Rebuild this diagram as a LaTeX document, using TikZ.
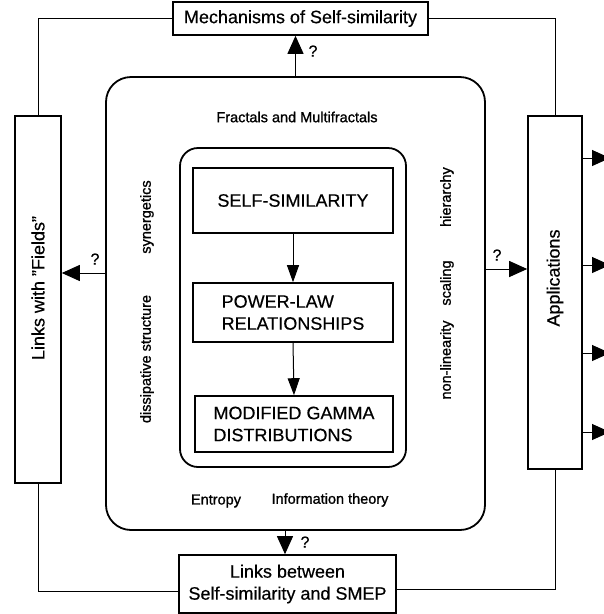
\documentclass[tikz,border=0pt]{standalone}
\usepackage{fontspec}
\setmainfont{Liberation Sans}[FakeBold=0.4]
\newfontfamily\heavyfont{Liberation Sans}[FakeBold=1.2]
\usetikzlibrary{arrows.meta,calc}
\newcommand\myBig{\fontsize{18}{22}\selectfont}
\newcommand\mySmall{\heavyfont\fontsize{14.5}{18}\selectfont}
\newcommand\myQ{\fontsize{16}{18}\selectfont}
\begin{document}
\begin{tikzpicture}[x=1pt,y=-1pt,
  box/.style={draw,line width=1.6pt,inner sep=0pt,font=\myBig},
  rbox/.style={draw,line width=1.8pt,inner sep=0pt},
  txt/.style={font=\myBig,inner sep=0pt},
  small/.style={font=\mySmall,inner sep=0pt},
  qm/.style={font=\myQ,inner sep=0pt},
  conn/.style={line width=0.8pt},
  arr/.style={line width=1pt,-{Triangle[length=18pt,width=16pt]}},
  iarr/.style={line width=1pt,-{Triangle[length=17pt,width=12pt]}}]
\useasboundingbox (0,0) rectangle (604,614);
% outer frames
\node[rbox,rounded corners=25pt,minimum width=379,minimum height=453] (outer) at (295.5,303.5) {};
\node[rbox,rounded corners=18pt,minimum width=226,minimum height=319] (inner) at (293,307.5) {};
% side boxes
\node[box,minimum width=255,minimum height=33] (mech) at (300.5,18.5) {Mechanisms of Self-similarity};
\node[box,minimum width=46,minimum height=367] (links) at (38,299.5) {};
\node[txt,rotate=90] (linkst) at (38,288) {Links with "Fields"};
\node[box,minimum width=54,minimum height=353] (apps) at (555,292.5) {};
\node[txt,rotate=90] (appst) at (555,278) {Applications};
\node[box,minimum width=217,minimum height=58,align=center] (smep) at (287.5,584) {Links between\\Self-similarity and SMEP};
% inner boxes
\node[box,minimum width=200,minimum height=65] (b1) at (293,200.5) {SELF-SIMILARITY};
\node[box,minimum width=200,minimum height=59,align=left] (b2) at (293,312.5) {POWER-LAW\\RELATIONSHIPS};
\node[box,minimum width=198,minimum height=56,align=left] (b3) at (294,424) {MODIFIED GAMMA\\DISTRIBUTIONS};
\draw[iarr] (b1.south) -- (b2.north);
\draw[iarr] (b2.south) -- (b3.north);
% labels
\node[small] (frac) at (297,117) {Fractals and Multifractals};
\node[small] (entr) at (216,501) {Entropy};
\node[small] (info) at (330,500) {Information theory};
\node[small,rotate=90] (syn) at (147,217) {synergetics};
\node[small,rotate=90] (diss) at (147,359) {dissipative structure};
\node[small,rotate=90] (hier) at (447,197) {hierarchy};
\node[small,rotate=90] (scal) at (447,283) {scaling};
\node[small,rotate=90] (nonl) at (447,360) {non-linearity};
% connectors
\draw[conn] (mech.west) -| (links.north);
\draw[conn] (mech.east) -| (apps.north);
\coordinate (bl) at ($(smep.west)+(0,7)$);
\coordinate (br) at ($(smep.east)+(0,5)$);
\draw[conn] (links.south) |- (bl);
\draw[conn] (apps.south) |- (br);
% question arrows
\coordinate (yL) at (0,273);
\coordinate (yR) at (0,269);
\coordinate (xD) at (285,0);
\draw[arr] (outer.north) -- (outer.north |- mech.south);
\draw[arr] (outer.west |- yL) -- (links.east |- yL);
\draw[arr] (outer.east |- yR) -- (apps.west |- yR);
\draw[arr] (outer.south -| xD) -- (smep.north -| xD);
\node[qm] (q1) at (313,51) {?};
\node[qm] (q2) at (95,259) {?};
\node[qm] (q3) at (497,255) {?};
\node[qm] (q4) at (305,542) {?};
% output arrows
\foreach \y [count=\i] in {158,265,353,432}{
  \coordinate (o\i) at (610,\y);
  \draw[arr] (apps.east |- o\i) -- (o\i);
}
\end{tikzpicture}
\end{document}
